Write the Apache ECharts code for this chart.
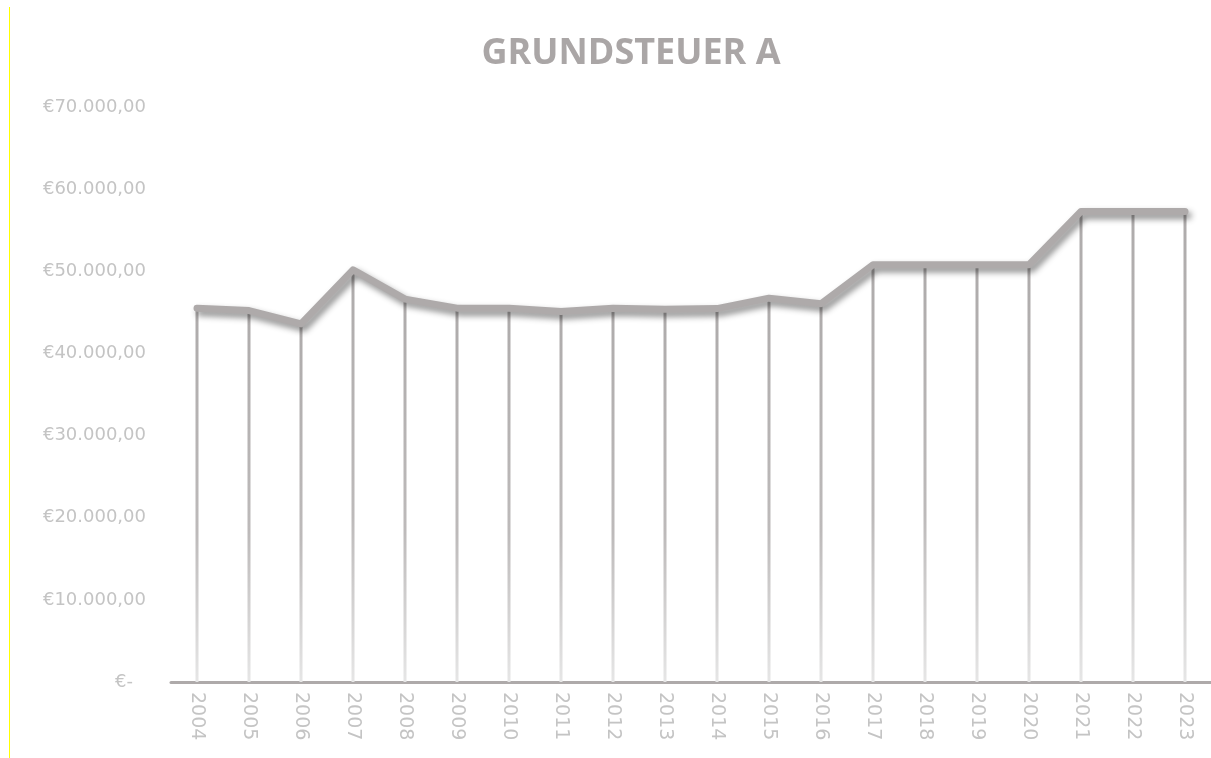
<!DOCTYPE html>
<html>
<head>
<meta charset="utf-8">
<script src="https://cdn.jsdelivr.net/npm/echarts@6/dist/echarts.min.js"></script>
<style>
  html, body { margin: 0; padding: 0; background: #fff; }
  #chart { width: 1211px; height: 758px; }
</style>
</head>
<body>
<div id="chart"></div>
<script>
  // Grundsteuer A, Jahre 2004 - 2023
  var years = ['2004', '2005', '2006', '2007', '2008', '2009', '2010', '2011', '2012', '2013',
               '2014', '2015', '2016', '2017', '2018', '2019', '2020', '2021', '2022', '2023'];
  var grundsteuerA = [45510, 45220, 43600, 50180, 46610, 45510, 45510, 45100, 45500, 45390,
                      45460, 46730, 46040, 50790, 50790, 50790, 50790, 57290, 57290, 57290];

  function euro(v) {
    if (v === 0) {
      return '{z|€-}'
    }
    var s = String(Math.round(v)).replace(/\B(?=(\d{3})+(?!\d))/g, '.')
    return '€' + s + ',00'
  }

  var chart = echarts.init(document.getElementById('chart'))
  chart.setOption({
    animation: false,
    backgroundColor: '#ffffff',
    title: {
      text: 'GRUNDSTEUER A',
      left: 626,
      textAlign: 'center',
      top: 31,
      textStyle: {
        fontFamily: 'Open Sans',
        fontWeight: 'bold',
        fontSize: 36,
        color: '#aaa6a6'
      }
    },
    graphic: [{
      type: 'rect',
      shape: { x: 9, y: 7, width: 1, height: 751 },
      style: { fill: '#ffff00' }
    }],
    grid: {
      left: 171,
      right: 0,
      top: 107,
      bottom: 76
    },
    xAxis: {
      type: 'category',
      data: years,
      boundaryGap: true,
      axisLine: {
        lineStyle: { color: '#aeaaaa', width: 3 }
      },
      axisTick: { show: false },
      axisLabel: {
        rotate: -90,
        margin: 10,
        fontFamily: 'DejaVu Sans',
        fontSize: 19,
        color: '#c4c4c4'
      }
    },
    yAxis: {
      type: 'value',
      min: 0,
      max: 70000,
      interval: 10000,
      axisLine: { show: false },
      axisTick: { show: false },
      splitLine: { show: false },
      axisLabel: {
        margin: 25,
        fontFamily: 'DejaVu Sans',
        fontSize: 18,
        color: '#c4c4c4',
        formatter: euro,
        rich: {
          z: {
            fontFamily: 'DejaVu Sans',
            fontSize: 18,
            color: '#c4c4c4',
            padding: [0, 13, 0, 0]
          }
        }
      }
    },
    series: [
      {
        // Lotlinien
        type: 'bar',
        data: grundsteuerA,
        barWidth: 3,
        z: 1,
        itemStyle: {
          color: new echarts.graphic.LinearGradient(0, 0, 0, 1, [
            { offset: 0, color: '#aeabab' },
            { offset: 0.6, color: '#bdbaba' },
            { offset: 1, color: '#e6e6e6' }
          ])
        }
      },
      {
        type: 'line',
        data: grundsteuerA,
        symbol: 'none',
        z: 3,
        lineStyle: {
          color: '#aeaaaa',
          width: 7,
          cap: 'round',
          join: 'round',
          shadowColor: 'rgba(0,0,0,0.45)',
          shadowBlur: 6,
          shadowOffsetX: 3,
          shadowOffsetY: 4
        }
      }
    ]
  })
</script>
</body>
</html>
